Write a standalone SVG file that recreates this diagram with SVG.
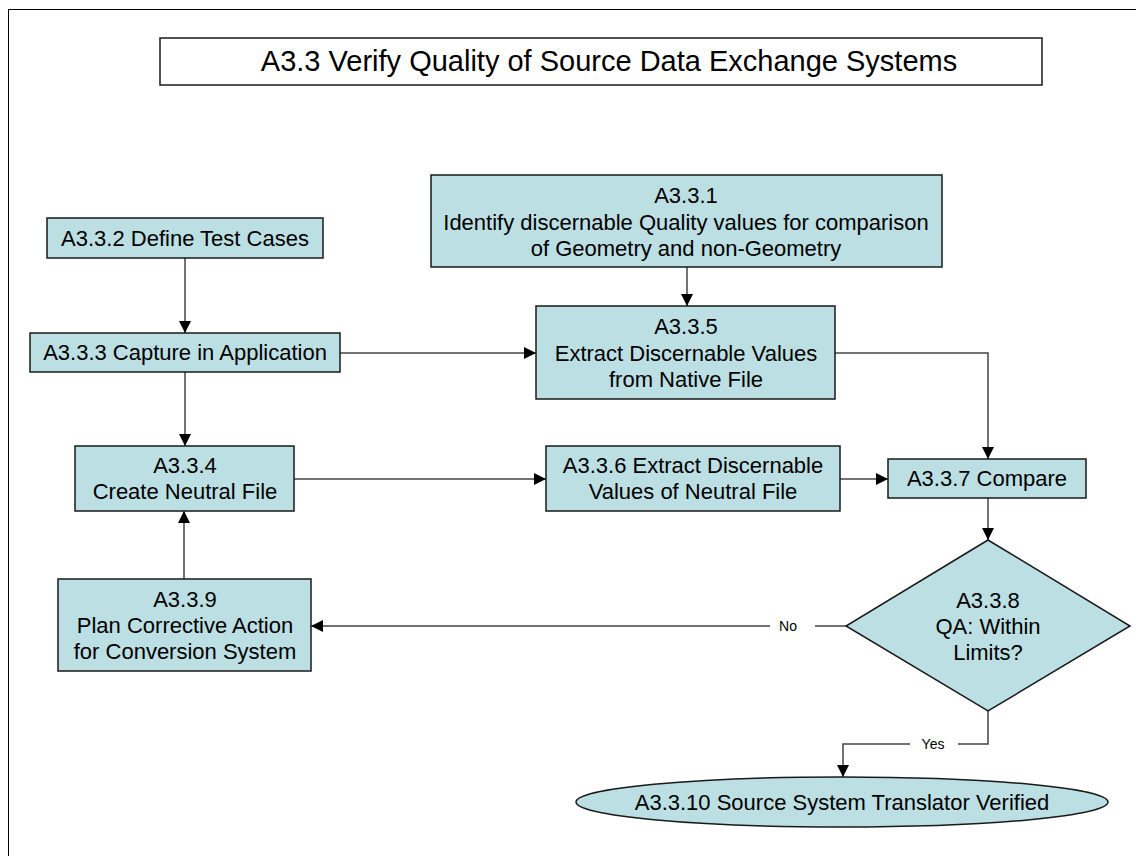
<svg xmlns="http://www.w3.org/2000/svg" width="1136" height="856" viewBox="0 0 1136 856">
<defs>
<style>
.n{fill:#bbdfe2;stroke:#1a1a1a;stroke-width:1.5}
.t{font-family:"Liberation Sans",Arial,sans-serif;font-size:22px;fill:#000;text-anchor:middle}
.c{fill:none;stroke:#444;stroke-width:1.5}
.lbl{font-family:"Liberation Sans",Arial,sans-serif;font-size:14px;fill:#000;text-anchor:middle}
</style>
<marker id="ah" markerWidth="12" markerHeight="12" viewBox="0 0 12 12" refX="12" refY="6" orient="auto" markerUnits="userSpaceOnUse">
<path d="M0,0 L12,6 L0,12 Z" fill="#000"/>
</marker>
</defs>
<rect x="0" y="0" width="1136" height="856" fill="#fff"/>
<rect x="8.5" y="9.5" width="1140" height="860" fill="none" stroke="#000" stroke-width="1"/>
<g id="title">
<rect x="160" y="38" width="882" height="47" fill="#fff" stroke="#1a1a1a" stroke-width="1.5"/>
<text x="609" y="71" style="font-family:'Liberation Sans',Arial,sans-serif;font-size:29px;text-anchor:middle">A3.3 Verify Quality of Source Data Exchange Systems</text>
</g>
<g id="connectors">
<path class="c" d="M185,258 V333" marker-end="url(#ah)"/>
<path class="c" d="M340,353 H536" marker-end="url(#ah)"/>
<path class="c" d="M185,372 V446" marker-end="url(#ah)"/>
<path class="c" d="M687,267 V306" marker-end="url(#ah)"/>
<path class="c" d="M835,353 H988 V459" marker-end="url(#ah)"/>
<path class="c" d="M294,479 H546" marker-end="url(#ah)"/>
<path class="c" d="M840,479 H888" marker-end="url(#ah)"/>
<path class="c" d="M988,498 V540" marker-end="url(#ah)"/>
<path class="c" d="M846,626 H815 M770,626 H311" marker-end="url(#ah)"/>
<text class="lbl" x="788" y="631">No</text>
<path class="c" d="M184,579 V511" marker-end="url(#ah)"/>
<path class="c" d="M988,711 V744 H958 M910,744 H843 V777" marker-end="url(#ah)"/>
<text class="lbl" x="933" y="749">Yes</text>
</g>
<g id="n332">
<rect class="n" x="47" y="218" width="276" height="40"/>
<text class="t" x="185" y="246">A3.3.2 Define Test Cases</text>
</g>
<g id="n333">
<rect class="n" x="30" y="333" width="310" height="39"/>
<text class="t" x="185" y="360">A3.3.3 Capture in Application</text>
</g>
<g id="n331">
<rect class="n" x="431" y="175" width="511" height="92"/>
<text class="t" x="686" y="203">A3.3.1</text>
<text class="t" x="686" y="230">Identify discernable Quality values for comparison</text>
<text class="t" x="686" y="256">of Geometry and non-Geometry</text>
</g>
<g id="n335">
<rect class="n" x="536" y="306" width="299" height="93"/>
<text class="t" x="686" y="334">A3.3.5</text>
<text class="t" x="686" y="361">Extract Discernable Values</text>
<text class="t" x="686" y="387">from Native File</text>
</g>
<g id="n334">
<rect class="n" x="75" y="446" width="219" height="65"/>
<text class="t" x="185" y="473">A3.3.4</text>
<text class="t" x="185" y="499">Create Neutral File</text>
</g>
<g id="n336">
<rect class="n" x="546" y="446" width="294" height="65"/>
<text class="t" x="693" y="473">A3.3.6 Extract Discernable</text>
<text class="t" x="693" y="499">Values of Neutral File</text>
</g>
<g id="n337">
<rect class="n" x="888" y="459" width="198" height="39"/>
<text class="t" x="987" y="486">A3.3.7 Compare</text>
</g>
<g id="n338">
<polygon class="n" points="988,540 1130,626 988,711 846,626"/>
<text class="t" x="988" y="608">A3.3.8</text>
<text class="t" x="988" y="634">QA: Within</text>
<text class="t" x="988" y="660">Limits?</text>
</g>
<g id="n339">
<rect class="n" x="58" y="579" width="253" height="92"/>
<text class="t" x="185" y="607">A3.3.9</text>
<text class="t" x="185" y="633">Plan Corrective Action</text>
<text class="t" x="185" y="659">for Conversion System</text>
</g>
<g id="n3310">
<ellipse class="n" cx="842" cy="802" rx="266" ry="25"/>
<text class="t" x="842" y="810">A3.3.10 Source System Translator Verified</text>
</g>
</svg>
